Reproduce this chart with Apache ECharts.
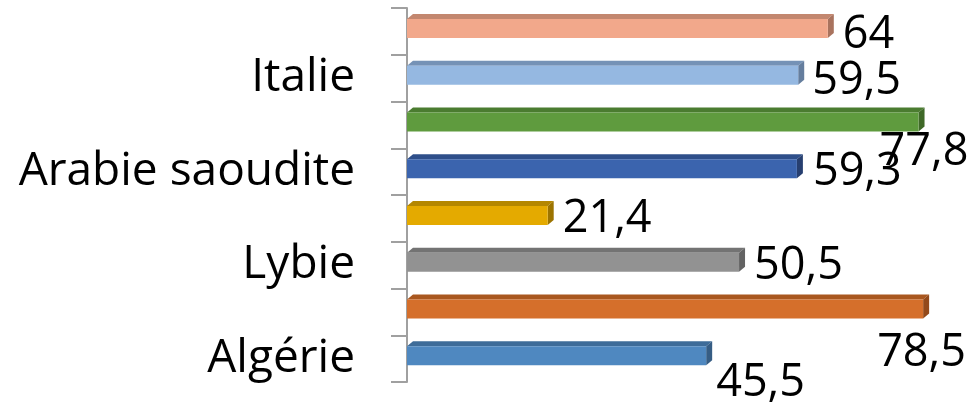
<!DOCTYPE html>
<html>
<head>
<meta charset="utf-8">
<script src="https://cdn.jsdelivr.net/npm/echarts@6/dist/echarts.min.js"></script>
<style>
  html, body { margin: 0; padding: 0; background: #fff; }
  #chart { width: 978px; height: 406px; }
</style>
</head>
<body>
<div id="chart"></div>
<script>
// Categories from top to bottom; only every second one carries a name
const categories = ['', 'Italie', '', 'Arabie saoudite', '', 'Lybie', '', 'Algérie'];
// Bar values, top to bottom
const values = [64, 59.5, 77.8, 59.3, 21.4, 50.5, 78.5, 45.5];

// Face colours per bar: [front, top, side]
const palette = [
  ['#F2A88B', '#C3876F', '#A9735E'],
  ['#95B8E1', '#7592B6', '#657E9E'],
  ['#5F9B3E', '#4B7C30', '#3F6928'],
  ['#3B64AE', '#2E4F8A', '#273F70'],
  ['#E4AA00', '#B48700', '#9C7400'],
  ['#929292', '#737373', '#636363'],
  ['#D56F2B', '#A9571F', '#93491A'],
  ['#4F88C0', '#3E6C99', '#365D84']
];

// Value label placement relative to the bar end: [dx, dy] in pixels
const labelNudge = [
  [15, 4], [14, 3], [-39, 27], [16, 1],
  [15, 1], [15, 1], [-46, 41], [10, 25]
];

const DEPTH_X = 6, DEPTH_Y = 5, BAR_H = 19, BAR_SHIFT = -3;

function fmt(v) { return String(v).replace('.', ','); }

function renderBar(params, api) {
  const i = params.dataIndex;
  const v = api.value(0);
  const idx = api.value(1);
  const start = api.coord([0, idx]);
  const end = api.coord([v, idx]);
  const x0 = start[0], x1 = end[0];
  const top = start[1] + BAR_SHIFT - BAR_H / 2;
  const bottom = top + BAR_H;
  const c = palette[i];
  const n = labelNudge[i];
  return {
    type: 'group',
    children: [
      {
        type: 'polygon',
        shape: { points: [[x0, top], [x0 + DEPTH_X, top - DEPTH_Y], [x1 + DEPTH_X, top - DEPTH_Y], [x1, top]] },
        style: { fill: c[1] }
      },
      {
        type: 'polygon',
        shape: { points: [[x1, top], [x1 + DEPTH_X, top - DEPTH_Y], [x1 + DEPTH_X, bottom - DEPTH_Y], [x1, bottom]] },
        style: { fill: c[2] }
      },
      {
        type: 'rect',
        shape: { x: x0, y: top, width: x1 - x0, height: BAR_H },
        style: { fill: c[0] }
      },
      {
        type: 'text',
        style: {
          text: fmt(v),
          x: x1 + n[0],
          y: start[1] + n[1],
          fill: '#000',
          font: '45px "Open Sans"',
          align: 'left',
          verticalAlign: 'middle'
        }
      }
    ]
  };
}

const chart = echarts.init(document.getElementById('chart'), null, { renderer: 'canvas' });
chart.setOption({
  animation: false,
  backgroundColor: '#fff',
  grid: { left: 407, top: 8, width: 526, height: 374 },
  xAxis: {
    type: 'value',
    min: 0,
    max: 80,
    show: false
  },
  yAxis: {
    type: 'category',
    data: categories,
    inverse: true,
    offset: 5,
    axisLine: { show: true, lineStyle: { color: '#A0A0A0', width: 2 } },
    axisTick: { show: true, interval: 0, length: 16, lineStyle: { color: '#A0A0A0', width: 2 } },
    axisLabel: {
      interval: 0,
      margin: 47,
      color: '#000',
      fontFamily: 'Open Sans',
      fontSize: 46,
      padding: [7, 0, 0, 0]
    },
    splitLine: { show: false }
  },
  series: [{
    type: 'custom',
    renderItem: renderBar,
    encode: { x: 0, y: 1 },
    data: values.map((v, i) => [v, i]),
    clip: false
  }]
});
</script>
</body>
</html>
